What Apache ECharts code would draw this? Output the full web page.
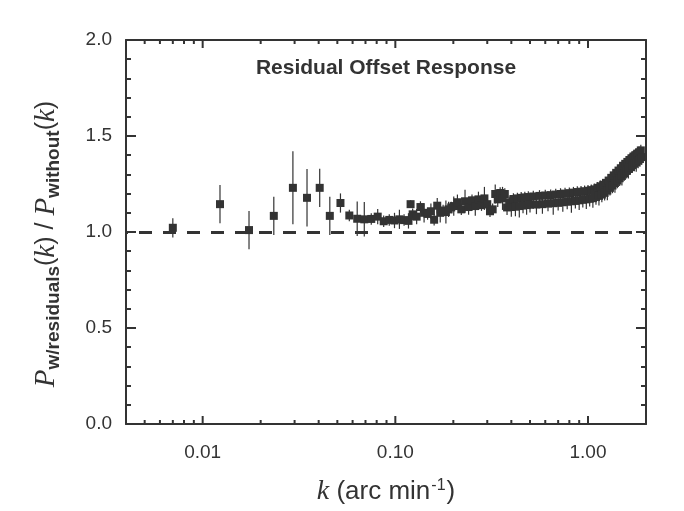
<!DOCTYPE html>
<html>
<head>
<meta charset="utf-8">
<script src="https://cdn.jsdelivr.net/npm/echarts@6/dist/echarts.min.js"></script>
<style>
html,body{margin:0;padding:0;background:#fff;}
#chart{width:684px;height:511px;}
</style>
</head>
<body>
<div id="chart"></div>
<script>
// ---- data ----
var kValues = [
  0.0070, 0.0123, 0.0174, 0.0234, 0.0294, 0.0348, 0.0405, 0.0457, 0.0519, 0.0577, 0.0634,
  0.069, 0.075, 0.081, 0.087, 0.093, 0.099, 0.105, 0.111, 0.117, 0.120,
  0.123, 0.129, 0.135, 0.141, 0.147, 0.153, 0.159, 0.165, 0.171, 0.177, 0.183, 0.189, 0.195, 0.201,
  0.21, 0.22, 0.23, 0.24, 0.25, 0.26, 0.27, 0.28, 0.29, 0.30,
  0.31, 0.32, 0.33, 0.34, 0.35, 0.36, 0.37, 0.38, 0.39, 0.40,
  0.41, 0.42, 0.43, 0.44, 0.45, 0.46, 0.47, 0.48, 0.49, 0.50,
  0.52, 0.54, 0.56, 0.58, 0.60, 0.62, 0.64, 0.66, 0.68, 0.70,
  0.72, 0.74, 0.76, 0.78, 0.80, 0.82, 0.84, 0.86, 0.88, 0.90,
  0.92, 0.94, 0.96, 0.98, 1.00, 1.02, 1.04, 1.06, 1.08, 1.10,
  1.12, 1.14, 1.16, 1.18, 1.20, 1.22, 1.24, 1.26, 1.28, 1.30,
  1.32, 1.34, 1.36, 1.38, 1.40, 1.42, 1.44, 1.46, 1.48, 1.50,
  1.52, 1.54, 1.56, 1.58, 1.60, 1.62, 1.64, 1.66, 1.68, 1.70,
  1.72, 1.74, 1.76, 1.78, 1.80, 1.82, 1.84, 1.86, 1.88, 1.90
];
var ratioValues = [
  1.022, 1.145, 1.010, 1.084, 1.230, 1.178, 1.230, 1.084, 1.151, 1.086, 1.069,
  1.066, 1.068, 1.080, 1.056, 1.063, 1.060, 1.066, 1.062, 1.058, 1.145,
  1.092, 1.080, 1.130, 1.100, 1.094, 1.108, 1.064, 1.137, 1.100, 1.112, 1.104, 1.118, 1.128, 1.135,
  1.155, 1.118, 1.160, 1.130, 1.165, 1.135, 1.170, 1.140, 1.175, 1.145,
  1.108, 1.118, 1.198, 1.170, 1.203, 1.175, 1.198, 1.128, 1.155, 1.130,
  1.172, 1.132, 1.175, 1.135, 1.178, 1.138, 1.180, 1.140, 1.182, 1.142,
  1.185, 1.143, 1.188, 1.145, 1.190, 1.148, 1.192, 1.150, 1.195, 1.152,
  1.198, 1.155, 1.200, 1.158, 1.202, 1.160, 1.205, 1.162, 1.208, 1.165,
  1.210, 1.168, 1.212, 1.170, 1.215, 1.173, 1.218, 1.176, 1.222, 1.182,
  1.230, 1.188, 1.238, 1.195, 1.246, 1.204, 1.256, 1.216, 1.268, 1.230,
  1.282, 1.242, 1.295, 1.255, 1.308, 1.268, 1.320, 1.280, 1.332, 1.292,
  1.345, 1.305, 1.355, 1.318, 1.365, 1.328, 1.375, 1.338, 1.384, 1.348,
  1.393, 1.356, 1.400, 1.364, 1.408, 1.372, 1.415, 1.380, 1.425, 1.390
];
var errValues = [
  0.05, 0.10, 0.10, 0.10, 0.19, 0.15, 0.10, 0.10, 0.05, 0.03, 0.09,
  0.09, 0.03, 0.04, 0.03, 0.03, 0.04, 0.05, 0.03, 0.04, 0.02,
  0.03, 0.04, 0.03, 0.05, 0.03, 0.04, 0.03, 0.04, 0.05, 0.03, 0.06, 0.04, 0.03, 0.05,
  0.04, 0.03, 0.06, 0.04, 0.03, 0.05, 0.04, 0.03, 0.06, 0.04,
  0.03, 0.03, 0.05, 0.04, 0.03, 0.06, 0.03, 0.04, 0.03, 0.05,
  0.03, 0.05, 0.03, 0.06, 0.03, 0.04, 0.03, 0.05, 0.03, 0.04,
  0.03, 0.05, 0.03, 0.05, 0.03, 0.04, 0.03, 0.06, 0.03, 0.04,
  0.03, 0.05, 0.03, 0.04, 0.03, 0.06, 0.03, 0.04, 0.03, 0.05,
  0.03, 0.04, 0.03, 0.05, 0.03, 0.04, 0.03, 0.05, 0.03, 0.04,
  0.03, 0.05, 0.03, 0.04, 0.03, 0.04, 0.03, 0.05, 0.03, 0.04,
  0.03, 0.04, 0.03, 0.05, 0.03, 0.04, 0.03, 0.04, 0.03, 0.05,
  0.03, 0.04, 0.03, 0.04, 0.03, 0.05, 0.03, 0.04, 0.03, 0.04,
  0.03, 0.04, 0.03, 0.05, 0.03, 0.04, 0.03, 0.04, 0.03, 0.04
];
var xMajorTicks = [0.01, 0.1, 1];
var xMinorTicks = [0.005, 0.006, 0.007, 0.008, 0.009,
                   0.02, 0.03, 0.04, 0.05, 0.06, 0.07, 0.08, 0.09,
                   0.2, 0.3, 0.4, 0.5, 0.6, 0.7, 0.8, 0.9];
var referenceLevel = 1.0;
var titleText = 'Residual Offset Response';

// ---- chart ----
var INK = '#333333';
var SANS = '"Liberation Sans", Arial, Helvetica, sans-serif';
var SERIF = '"Liberation Serif", "DejaVu Serif", serif';
var chart = echarts.init(document.getElementById('chart'));

function tickSeries(values, len) {
  return {
    type: 'custom',
    xAxisIndex: 0, yAxisIndex: 0,
    silent: true, z: 10, clip: false,
    data: values.map(function (v) { return [v]; }),
    encode: { x: 0 },
    renderItem: function (params, api) {
      var pb = api.coord([api.value(0), 0]);
      var pt = api.coord([api.value(0), 2]);
      return {
        type: 'group',
        children: [
          { type: 'line', shape: { x1: pb[0], y1: pb[1], x2: pb[0], y2: pb[1] - len },
            style: { stroke: INK, lineWidth: 2 } },
          { type: 'line', shape: { x1: pt[0], y1: pt[1], x2: pt[0], y2: pt[1] + len },
            style: { stroke: INK, lineWidth: 2 } }
        ]
      };
    }
  };
}

var yAxisCommon = {
  type: 'value', min: 0, max: 2, interval: 0.5,
  axisLine: { show: true, lineStyle: { color: INK, width: 2 } },
  axisTick: { show: true, inside: true, length: 10, lineStyle: { color: INK, width: 2 } },
  minorTick: { show: true, splitNumber: 5, length: 5, lineStyle: { color: INK, width: 2 } },
  splitLine: { show: false }
};

var option = {
  animation: false,
  backgroundColor: '#ffffff',
  title: {
    text: titleText, left: 381, top: 53, textAlign: 'center',
    textStyle: { fontFamily: SANS, fontWeight: 'bold', fontSize: 21, color: INK }
  },
  grid: { left: 126, top: 40, right: 38, bottom: 87, containLabel: false },
  xAxis: [{
    type: 'log', logBase: 10, min: 0.004, max: 2,
    position: 'bottom',
    axisLine: { show: true, onZero: false, lineStyle: { color: INK, width: 2 } },
    axisTick: { show: false },
    splitLine: { show: false },
    axisLabel: {
      margin: 19, fontFamily: SANS, fontSize: 19, color: INK,
      showMinLabel: true, showMaxLabel: true,
      formatter: function (v) {
        var l = Math.log10(v);
        if (Math.abs(l - Math.round(l)) < 1e-6) return Math.pow(10, Math.round(l)).toFixed(2);
        return '';
      }
    },
    name: '{k|k}{t| (arc min}{sup|-1}{t|)}',
    nameLocation: 'middle', nameGap: 54,
    nameTextStyle: {
      rich: {
        k: { fontFamily: SERIF, fontStyle: 'italic', fontSize: 28, color: INK },
        t: { fontFamily: SANS, fontSize: 26, color: INK },
        sup: { fontFamily: SANS, fontSize: 16, color: INK, verticalAlign: 'top', padding: [0, 1, 12, 1] }
      }
    }
  }, {
    type: 'log', logBase: 10, min: 0.004, max: 2,
    position: 'top',
    axisLine: { show: true, onZero: false, lineStyle: { color: INK, width: 2 } },
    axisTick: { show: false }, axisLabel: { show: false }, splitLine: { show: false }
  }],
  yAxis: [Object.assign({}, yAxisCommon, {
    position: 'left',
    axisLabel: {
      margin: 14, fontFamily: SANS, fontSize: 19, color: INK,
      formatter: function (v) { return v.toFixed(1); }
    },
    name: '{p|P}{sub|w/residuals}{t|(}{k|k}{t|) / }{p|P}{sub|without}{t|(}{k|k}{t|)}',
    nameLocation: 'middle', nameGap: 63, nameRotate: 90,
    nameTextStyle: {
      padding: [0, 24, 0, 0],
      rich: {
        p: { fontFamily: SERIF, fontStyle: 'italic', fontSize: 29, color: INK },
        k: { fontFamily: SERIF, fontStyle: 'italic', fontSize: 29, color: INK },
        t: { fontFamily: SANS, fontSize: 25, color: INK },
        sub: { fontFamily: SANS, fontWeight: 'bold', fontSize: 19, color: INK, padding: [14, 0, 0, 0] }
      }
    }
  }), Object.assign({}, yAxisCommon, {
    position: 'right',
    axisLabel: { show: false }
  })],
  series: [
    {
      type: 'custom',
      name: 'error',
      xAxisIndex: 0, yAxisIndex: 0,
      silent: true, z: 3,
      data: kValues.map(function (k, i) { return [k, ratioValues[i] - errValues[i], ratioValues[i] + errValues[i]]; }),
      encode: { x: 0, y: [1, 2] },
      renderItem: function (params, api) {
        var a = api.coord([api.value(0), api.value(1)]);
        var b = api.coord([api.value(0), api.value(2)]);
        return { type: 'line', shape: { x1: a[0], y1: a[1], x2: b[0], y2: b[1] },
                 style: { stroke: INK, lineWidth: 1.2 } };
      }
    },
    {
      type: 'scatter',
      xAxisIndex: 0, yAxisIndex: 0,
      symbol: 'rect', symbolSize: 8, z: 4,
      itemStyle: { color: INK, opacity: 1 },
      data: kValues.map(function (k, i) { return [k, ratioValues[i]]; }),
      markLine: {
        silent: true, symbol: ['none', 'none'], label: { show: false },
        lineStyle: { color: INK, width: 3, type: [13, 11], dashOffset: 11 },
        data: [{ yAxis: referenceLevel }]
      }
    },
    tickSeries(xMajorTicks, 8),
    tickSeries(xMinorTicks, 4)
  ]
};
chart.setOption(option);
</script>
</body>
</html>
